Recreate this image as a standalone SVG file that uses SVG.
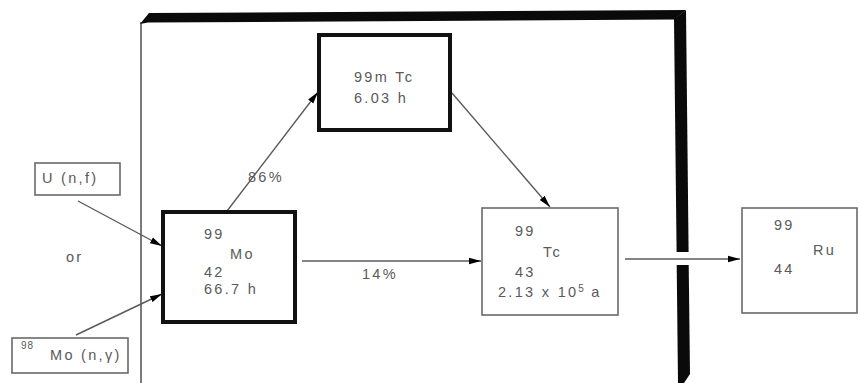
<svg xmlns="http://www.w3.org/2000/svg" width="860" height="383" viewBox="0 0 860 383">
<style>
text{font-family:"Liberation Sans",Arial,sans-serif;font-size:14.5px;fill:#5a5a5a;letter-spacing:2.3px}
.sup{font-size:10px;letter-spacing:1px}
.thin{fill:#fff;stroke:#6a6a6a;stroke-width:1.6}
.thick{fill:#fff;stroke:#111;stroke-width:4}
.conn{stroke:#5a5a5a;stroke-width:1.4;fill:none;marker-end:url(#ah)}
.frame{fill:#0a0a0a}
</style>
<defs>
<marker id="ah" markerUnits="userSpaceOnUse" markerWidth="12" markerHeight="8" refX="12" refY="4" orient="auto">
<path d="M0,0.8 L12,4 L0,7.2 z" fill="#000"/>
</marker>
</defs>
<rect width="860" height="383" fill="#fff"/>
<g id="frame">
<line x1="141" y1="22" x2="141" y2="383" stroke="#5a5a5a" stroke-width="1.6"/>
<polygon class="frame" points="140,24 149,13 686,10 674,19.5 148,22.5"/>
<polygon class="frame" points="686,10 688.6,252 676.6,252 674,19"/>
<polygon class="frame" points="676.7,265 688.7,265 690,374 684,383 678,383"/>
</g>
<g id="connectors">
<line class="conn" x1="78" y1="201" x2="162" y2="246"/>
<line class="conn" x1="76" y1="335" x2="162" y2="294"/>
<line class="conn" x1="227" y1="211" x2="318" y2="92"/>
<line class="conn" x1="452" y1="93" x2="550" y2="207"/>
<line class="conn" x1="302" y1="261" x2="481" y2="261"/>
<line class="conn" x1="625" y1="259" x2="740" y2="259"/>
<text x="248" y="182">86%</text>
<text x="362" y="279">14%</text>
</g>
<g id="u-nf">
<rect class="thin" x="35" y="163" width="85" height="32"/>
<text x="42" y="183">U (n,f)</text>
</g>
<g id="or-label">
<text x="66" y="262">or</text>
</g>
<g id="mo98">
<rect class="thin" x="12" y="338" width="116" height="35"/>
<text class="sup" x="21" y="349">98</text>
<text x="50" y="360">Mo (n,γ)</text>
</g>
<g id="mo99">
<rect class="thick" x="163" y="212" width="132" height="110"/>
<text x="204" y="239">99</text>
<text x="230" y="259">Mo</text>
<text x="204" y="277">42</text>
<text x="204" y="294">66.7 h</text>
</g>
<g id="tc99m">
<rect class="thick" x="319" y="35" width="131" height="95"/>
<text x="354" y="82">99m Tc</text>
<text x="354" y="103">6.03 h</text>
</g>
<g id="tc99">
<rect class="thin" x="482" y="208" width="136" height="107"/>
<text x="515" y="236">99</text>
<text x="543" y="257">Tc</text>
<text x="515" y="277">43</text>
<text x="498" y="297">2.13 x 10<tspan class="sup" dy="-5" font-size="11">5</tspan><tspan dy="5"> a</tspan></text>
</g>
<g id="ru99">
<rect class="thin" x="742" y="208" width="115" height="105"/>
<text x="774" y="230">99</text>
<text x="813" y="255">Ru</text>
<text x="774" y="274">44</text>
</g>
</svg>
